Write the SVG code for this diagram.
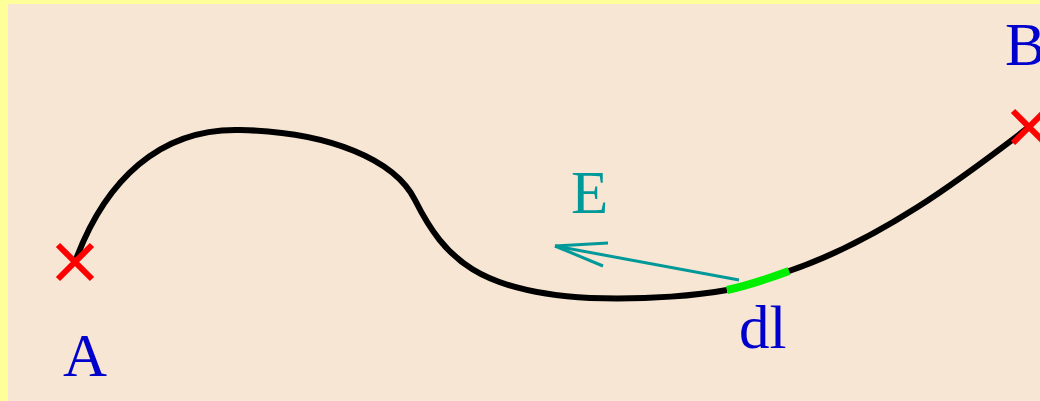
<svg xmlns="http://www.w3.org/2000/svg" width="1040" height="401" viewBox="0 0 1040 401">
<style>
.lbl{font-family:"Liberation Serif","Times New Roman",serif;font-size:61px}
.cross{stroke:#ff0000;stroke-width:6;fill:none}
.curve{fill:none;stroke:#000;stroke-width:6}
</style>
<rect x="0" y="0" width="1040" height="401" fill="#ffff99"/>
<rect x="8" y="4" width="1032" height="397" fill="#f7e6d3"/>
<g id="connectors">
<path class="curve" d="M75,262 C105,180 160,128 240,130 C330,132 395,160 415,200 C445,260 480,292 590,298 C650,300 700,295 727,290"/>
<path d="M727,290 C750,285 770,278 789,271" fill="none" stroke="#00ee00" stroke-width="8"/>
<path class="curve" d="M789,271 C880,240 960,180 1029,127"/>
<g id="E-arrow" stroke="#009999" stroke-width="3" fill="none">
<line x1="739" y1="280" x2="555" y2="246"/>
<line x1="555" y1="246" x2="608" y2="243"/>
<line x1="555" y1="246" x2="603" y2="266"/>
</g>
</g>
<g id="A">
<path class="cross" d="M58,245 L92,279 M92,245 L58,279"/>
<text class="lbl" x="63" y="376" fill="#0000cc">A</text>
</g>
<g id="B">
<path class="cross" d="M1013,111 L1045,143 M1045,111 L1013,143"/>
<text class="lbl" x="1005" y="65" fill="#0000cc">B</text>
</g>
<g id="E"><text class="lbl" x="571" y="213" fill="#009999">E</text></g>
<g id="dl"><text class="lbl" x="739" y="348" fill="#0000cc">dl</text></g>
</svg>
